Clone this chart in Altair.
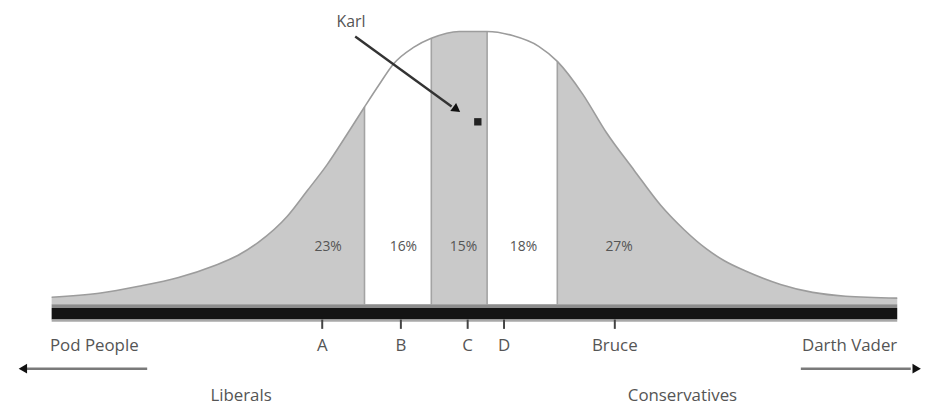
import altair as alt
import pandas as pd

# ---- data (x: position on the political spectrum 0..100, y: relative height of the bell curve) ----
curve_x = [0.0, 5.6, 10.3, 15.0, 19.3, 22.0, 24.4, 27.9, 30.2, 32.6, 34.9, 37.0, 38.7, 40.4,
           42.8, 44.9, 48.2, 51.5, 54.5, 57.6, 59.8, 62.8, 65.6, 68.9, 72.0, 74.8, 77.4, 79.5,
           82.2, 86.2, 90.0, 93.9, 100.0]
curve_y = [2.5, 4.0, 6.5, 9.7, 14.1, 17.7, 22.4, 32.1, 41.2, 50.9, 61.7, 71.8, 79.8, 87.4,
           93.5, 96.8, 99.3, 99.3, 97.8, 93.9, 88.4, 76.5, 62.5, 48.7, 36.1, 27.1, 20.2, 15.9,
           11.9, 7.2, 4.3, 2.9, 2.2]
boundaries = [37.0, 44.9, 51.5, 59.8]
white_bands = [(37.0, 44.9), (51.5, 59.8)]

share_labels = ["23%", "16%", "15%", "18%", "27%"]
share_x = [32.7, 41.6, 48.7, 55.8, 67.1]
share_y = 20.9

tick_labels = ["A", "B", "C", "D", "Bruce"]
tick_x = [32.0, 41.3, 49.2, 53.5, 66.6]

end_labels = ["Pod People", "Darth Vader"]
end_x = [-0.2, 100.0]
side_labels = ["Liberals", "Conservatives"]
side_x = [22.4, 74.6]

karl_label = "Karl"
karl_text_pos = (35.4, 102.9)
karl_arrow_from = (35.9, 97.5)
karl_arrow_to = (47.3, 72.0)
karl_head = (47.9, 70.9)
karl_point = (50.4, 66.4)

# layout in data units
X_DOMAIN = [-5.16, 102.81]
Y_DOMAIN = [-36.82, 107.22]
label_y = -15.2
arrow_y = -23.5
side_y = -33.6

FONT = "Open Sans"
TXT = "#555555"

xs = alt.Scale(domain=X_DOMAIN, nice=False, zero=False)
ys = alt.Scale(domain=Y_DOMAIN, nice=False, zero=False)


def X(f="x"):
    return alt.X(f"{f}:Q", scale=xs, axis=None)


def Y(f="y"):
    return alt.Y(f"{f}:Q", scale=ys, axis=None)


curve = pd.DataFrame({"x": curve_x, "y": curve_y, "base": 0.0})

whites = []
for i, (a, b) in enumerate(white_bands):
    sub = curve[(curve.x >= a) & (curve.x <= b)].copy()
    sub["band"] = i
    whites.append(sub)
white_df = pd.concat(whites)

bound_df = pd.DataFrame({"x": boundaries,
                         "y": [curve_y[curve_x.index(b)] for b in boundaries],
                         "base": 0.0})

gray_area = alt.Chart(curve).mark_area(fill="#c9c9c9", orient="vertical",
                                       interpolate="monotone").encode(
    x=X(), y=Y(), y2=alt.Y2("base:Q"))
white_area = alt.Chart(white_df).mark_area(fill="#ffffff", orient="vertical",
                                           interpolate="monotone").encode(
    x=X(), y=Y(), y2=alt.Y2("base:Q"), detail="band:N")
bound_rules = alt.Chart(bound_df).mark_rule(color="#a3a3a3", strokeWidth=1.6).encode(
    x=X(), y=Y(), y2="base:Q")
outline = alt.Chart(curve).mark_line(color="#9c9c9c", strokeWidth=1.6, interpolate="monotone").encode(
    x=X(), y=Y())

bar_df = pd.DataFrame({"x": [0.0, 0.0, 0.0], "x2": [100.0, 100.0, 100.0],
                       "y": [0.0, -1.4, -5.6], "y2": [-1.4, -5.6, -6.4],
                       "c": ["#8c8c8c", "#141414", "#a8a8a8"]})
bars = alt.Chart(bar_df).mark_rect().encode(
    x=X(), x2="x2:Q", y=Y(), y2="y2:Q", color=alt.Color("c:N", scale=None))

tick_df = pd.DataFrame({"x": tick_x, "label": tick_labels, "y": -5.6, "y2": -9.0, "ly": label_y})
ticks = alt.Chart(tick_df).mark_rule(color="#444444", strokeWidth=2).encode(
    x=X(), y=Y(), y2="y2:Q")
tick_text = alt.Chart(tick_df).mark_text(font=FONT, fontSize=17, color=TXT, baseline="middle").encode(
    x=X(), y=Y("ly"), text="label:N")

share_df = pd.DataFrame({"x": share_x, "y": share_y, "label": share_labels})
share_text = alt.Chart(share_df).mark_text(font=FONT, fontSize=14, color=TXT, baseline="middle").encode(
    x=X(), y=Y(), text="label:N")

end_df = pd.DataFrame({"x": end_x, "y": label_y, "label": end_labels})
end_left = alt.Chart(end_df.iloc[[0]]).mark_text(font=FONT, fontSize=17, color=TXT, align="left",
                                                  baseline="middle").encode(x=X(), y=Y(), text="label:N")
end_right = alt.Chart(end_df.iloc[[1]]).mark_text(font=FONT, fontSize=17, color=TXT, align="right",
                                                   baseline="middle").encode(x=X(), y=Y(), text="label:N")

side_df = pd.DataFrame({"x": side_x, "y": side_y, "label": side_labels})
side_text = alt.Chart(side_df).mark_text(font=FONT, fontSize=17, color=TXT, baseline="middle").encode(
    x=X(), y=Y(), text="label:N")

arrow_df = pd.DataFrame({"x": [11.3, 88.6], "x2": [-3.0, 101.6], "y": arrow_y})
arrow_lines = alt.Chart(arrow_df).mark_rule(color="#7a7a7a", strokeWidth=2.4).encode(
    x=X(), x2="x2:Q", y=Y())
head_left = alt.Chart(pd.DataFrame({"x": [-3.4], "y": [arrow_y]})).mark_point(
    shape="triangle-left", filled=True, color="#111111", size=95, opacity=1).encode(x=X(), y=Y())
head_right = alt.Chart(pd.DataFrame({"x": [102.3], "y": [arrow_y]})).mark_point(
    shape="triangle-right", filled=True, color="#111111", size=95, opacity=1).encode(x=X(), y=Y())

karl_text = alt.Chart(pd.DataFrame({"x": [karl_text_pos[0]], "y": [karl_text_pos[1]],
                                    "label": [karl_label]})).mark_text(
    font=FONT, fontSize=16, color=TXT, baseline="middle").encode(x=X(), y=Y(), text="label:N")
karl_line = alt.Chart(pd.DataFrame({"x": [karl_arrow_from[0]], "x2": [karl_arrow_to[0]],
                                    "y": [karl_arrow_from[1]], "y2": [karl_arrow_to[1]]})).mark_rule(
    color="#333333", strokeWidth=2.4).encode(x=X(), x2="x2:Q", y=Y(), y2="y2:Q")
karl_head_mark = alt.Chart(pd.DataFrame({"x": [karl_head[0]], "y": [karl_head[1]]})).mark_point(
    shape="triangle-up", angle=126, filled=True, color="#111111", size=100, opacity=1).encode(x=X(), y=Y())
karl_dot = alt.Chart(pd.DataFrame({"x": [karl_point[0]], "y": [karl_point[1]]})).mark_point(
    shape="square", filled=True, color="#222222", size=55, opacity=1).encode(x=X(), y=Y())

chart = alt.layer(
    gray_area, white_area, bound_rules, outline, bars, ticks, tick_text, share_text,
    end_left, end_right, side_text, arrow_lines, head_left, head_right,
    karl_line, karl_head_mark, karl_dot, karl_text
).properties(
    width=921, height=399, padding=0,
    autosize=alt.AutoSizeParams(type="none"),
    background="white",
).configure_view(stroke=None)

chart.save("out.html", embed_options={"renderer": "svg", "actions": False})
